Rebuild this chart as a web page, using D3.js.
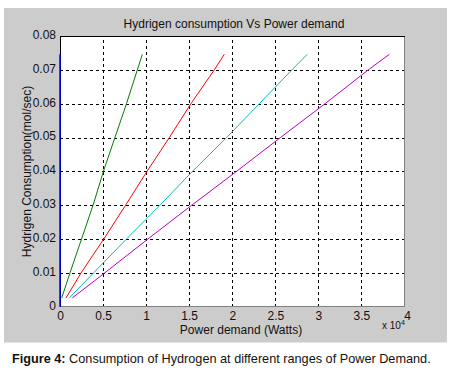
<!DOCTYPE html>
<html>
<head>
<meta charset="utf-8">
<script src="https://cdn.jsdelivr.net/npm/d3@7"></script>
<style>
  body { margin: 0; background: #fff; }
  text { font-family: "Liberation Sans", Arial, sans-serif; fill: #111; }
</style>
</head>
<body>
<svg id="chart"></svg>
<script>
// values (power in W, hydrogen in mol/sec)
var h2Levels = [0.0026, 0.01, 0.02, 0.03, 0.04, 0.05, 0.06, 0.07, 0.0746]
var powerBlue = [0, 0]
var h2Blue = [0, 0.0746]
var powerGreen = [197, 1160, 2500, 3840, 5040, 6380, 7720, 8980, 9560]
var powerRed = [700, 2450, 5080, 7620, 10100, 12700, 15200, 17920, 19080]
var powerCyan = [1080, 3900, 7720, 11610, 15380, 19350, 23150, 26930, 28720]
var powerMagenta = [1430, 5200, 10200, 15300, 20500, 25600, 30780, 35800, 38250]

var xTicks = [0, 5000, 10000, 15000, 20000, 25000, 30000, 35000, 40000]
var xTickLabels = ['0', '0.5', '1', '1.5', '2', '2.5', '3', '3.5', '4']
var yTicks = [0, 0.01, 0.02, 0.03, 0.04, 0.05, 0.06, 0.07, 0.08]

var W = 451, H = 373
var margin = { top: 36, right: 46.5, bottom: 66, left: 60 },
    width = W - margin.left - margin.right,
    height = H - margin.top - margin.bottom - 0.3;

var root = d3.select('#chart').attr('width', W).attr('height', H)

// grey figure panel
root.append('rect')
    .attr('x', 4).attr('y', 8)
    .attr('width', 443).attr('height', 334.5)
    .attr('fill', '#cccccc')

var svg = root.append('g')
    .attr('transform', 'translate(' + margin.left + ',' + margin.top + ')')

var x = d3.scaleLinear().domain([0, 40000]).range([0, width])
var y = d3.scaleLinear().domain([0, 0.08]).range([height, 0])

svg.append('rect')
    .attr('width', width).attr('height', height)
    .attr('fill', '#fff')

// dotted grid
svg.append('g')
    .attr('class', 'grid')
    .attr('transform', 'translate(0,' + height + ')')
    .call(d3.axisBottom(x).tickValues(xTicks.slice(1, -1)).tickSize(-height).tickFormat(''))
svg.append('g')
    .attr('class', 'grid')
    .call(d3.axisLeft(y).tickValues(yTicks.slice(1, -1)).tickSize(-width).tickFormat(''))
svg.selectAll('.grid .domain').remove()
svg.selectAll('.grid line')
    .attr('stroke', '#000')
    .attr('stroke-dasharray', '3,3')
    .attr('shape-rendering', 'crispEdges')

// lines
var series = [
    { p: powerGreen, h: h2Levels, color: '#008000' },
    { p: powerRed, h: h2Levels, color: '#ff0000' },
    { p: powerCyan, h: h2Levels, color: '#00bfbf' },
    { p: powerMagenta, h: h2Levels, color: '#bf00bf' }
]
var valueline = d3.line()
    .x(function (d) { return x(d[0]) })
    .y(function (d) { return y(d[1]) })

series.forEach(function (s) {
    svg.append('path')
        .datum(d3.zip(s.p, s.h))
        .attr('fill', 'none')
        .attr('stroke', s.color)
        .attr('stroke-width', 1)
        .attr('d', valueline)
})

// box
svg.append('line').attr('x1', 0).attr('x2', width).attr('y1', height).attr('y2', height)
    .attr('stroke', '#808080').attr('shape-rendering', 'crispEdges')
svg.append('line').attr('x1', width).attr('x2', width).attr('y1', 0).attr('y2', height)
    .attr('stroke', '#808080').attr('shape-rendering', 'crispEdges')
svg.append('line').attr('x1', 0).attr('x2', width).attr('y1', 0).attr('y2', 0)
    .attr('stroke', '#000').attr('shape-rendering', 'crispEdges')
svg.append('line').attr('x1', 0).attr('x2', 0).attr('y1', 0).attr('y2', height)
    .attr('stroke', '#000').attr('shape-rendering', 'crispEdges')

// blue series sits on the y axis
svg.append('path')
    .datum(d3.zip(powerBlue, h2Blue))
    .attr('fill', 'none')
    .attr('stroke', '#0000ff')
    .attr('stroke-width', 1.5)
    .attr('d', valueline)

// axes labels
var xAxis = d3.axisBottom(x).tickValues(xTicks).tickSize(0).tickPadding(4.5)
    .tickFormat(function (d, i) { return xTickLabels[i] })
var gx = svg.append('g')
    .attr('transform', 'translate(0,' + height + ')')
    .call(xAxis)
var yAxis = d3.axisLeft(y).tickValues(yTicks).tickSize(0).tickPadding(4)
    .tickFormat(function (d) { return d === 0 ? '0' : d3.format('.2f')(d) })
var gy = svg.append('g').call(yAxis)
gx.select('.domain').remove()
gy.select('.domain').remove()
svg.selectAll('.tick text')
    .attr('font-family', '"Liberation Sans", Arial, sans-serif')
    .attr('font-size', 12)
    .attr('fill', '#111')
gy.selectAll('.tick text').attr('dy', '0.2em')
gx.selectAll('.tick:last-of-type text').attr('dx', 2.5)

// titles
root.append('text')
    .attr('x', 234).attr('y', 28)
    .attr('text-anchor', 'middle')
    .attr('font-size', 12)
    .text('Hydrigen consumption Vs Power demand')

root.append('text')
    .attr('x', 241).attr('y', 334)
    .attr('text-anchor', 'middle')
    .attr('font-size', 12)
    .text('Power demand (Watts)')

root.append('text')
    .attr('transform', 'translate(31,171.5) rotate(-90)')
    .attr('text-anchor', 'middle')
    .attr('font-size', 12)
    .text('Hydrigen Consumption(mol/sec)')

var mult = root.append('text')
    .attr('x', 382).attr('y', 329)
    .attr('font-size', 10)
mult.append('tspan').text('x 10')
mult.append('tspan').attr('font-size', 7).attr('dy', -4).text('4')

// caption
var cap = root.append('text')
    .attr('x', 12).attr('y', 362.5)
    .attr('font-size', 12.7)
cap.append('tspan').attr('font-weight', 'bold').text('Figure 4:')
cap.append('tspan').text(' Consumption of Hydrogen at different ranges of Power Demand.')
</script>
</body>
</html>
